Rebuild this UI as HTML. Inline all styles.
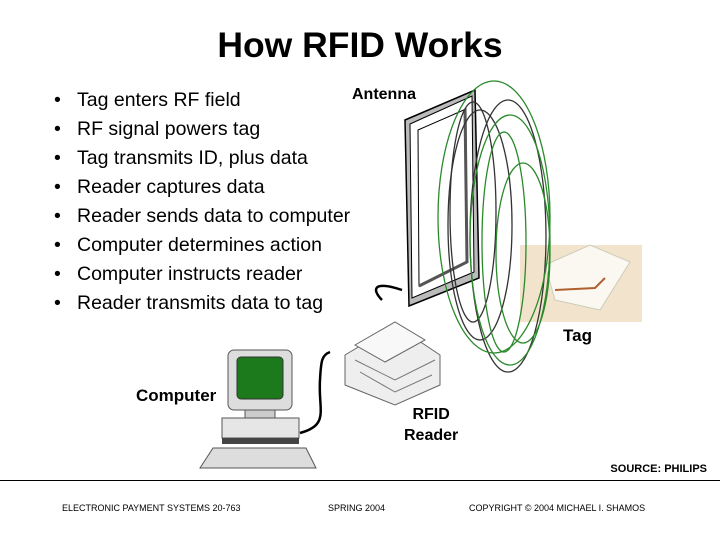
<!DOCTYPE html>
<html><head><style>
body{margin:0;width:720px;height:540px;background:#fff;position:relative;overflow:hidden;font-family:"Liberation Sans",sans-serif}
.t{position:absolute;white-space:nowrap}
</style></head><body>
<div class="t" style="left:0;width:720px;text-align:center;top:25px;font-size:35.5px;font-weight:bold">How RFID Works</div>
<div class="t" style="left:54px;top:86px;font-size:19.5px;line-height:29px">•<br>•<br>•<br>•<br>•<br>•<br>•<br>•</div>
<div class="t" style="left:77px;top:86px;font-size:19.5px;line-height:29px">Tag enters RF field<br>RF signal powers tag<br>Tag transmits ID, plus data<br>Reader captures data<br>Reader sends data to computer<br>Computer determines action<br>Computer instructs reader<br>Reader transmits data to tag</div>
<svg width="720" height="540" style="position:absolute;left:0;top:0">
<path d="M382,300 C372,290 372,280 402,290" fill="none" stroke="#000" stroke-width="2.5"/>
<polygon points="405,120 475,90 479,278 409,306" fill="#bbb" stroke="#000" stroke-width="1.5"/>
<polygon points="410,124 472,96 474,272 412,298" fill="#fff" stroke="#000" stroke-width="1"/>
<polygon points="418,130 466,109 467,262 419,286" fill="#fff" stroke="#000" stroke-width="1"/>
<polyline points="465,109 467,262 419,286" fill="none" stroke="#555" stroke-width="3"/>
<rect x="520" y="245" width="122" height="77" fill="#f2e4cc"/>
<polygon points="545,265 590,245 630,262 600,310 555,300" fill="#fbf8f2" stroke="#ccb" stroke-width="1"/>
<path d="M555,290 L595,288 L605,278" fill="none" stroke="#b06030" stroke-width="2"/>
<g fill="none" stroke-width="1.3">
<ellipse cx="473" cy="212" rx="23" ry="110" stroke="#333"/>
<ellipse cx="480" cy="225" rx="32" ry="115" stroke="#333"/>
<ellipse cx="508" cy="236" rx="38" ry="136" stroke="#333"/>
<ellipse cx="494" cy="217" rx="56" ry="136" stroke="#2a8a2a"/>
<ellipse cx="504" cy="242" rx="22" ry="110" stroke="#2a8a2a"/>
<ellipse cx="523" cy="253" rx="27" ry="90" stroke="#2a8a2a"/>
<ellipse cx="510" cy="240" rx="40" ry="125" stroke="#2a8a2a"/>
</g>
<polygon points="345,355 395,325 440,355 440,385 395,405 345,385" fill="#eee" stroke="#666"/>
<polygon points="355,345 395,322 425,340 385,362" fill="#f8f8f8" stroke="#666"/>
<path d="M355,360 L395,380 L435,360 M360,372 L395,392 L432,375" stroke="#777" fill="none"/>
<path d="M300,433 C330,425 318,410 320,380 C321,360 322,355 330,352" fill="none" stroke="#000" stroke-width="2.5"/>
<rect x="228" y="350" width="64" height="60" rx="6" fill="#ddd" stroke="#555"/>
<rect x="237" y="357" width="46" height="42" rx="4" fill="#1c7a1c" stroke="#333"/>
<rect x="245" y="410" width="30" height="8" fill="#ccc" stroke="#555"/>
<rect x="222" y="418" width="77" height="20" fill="#e6e6e6" stroke="#555"/>
<rect x="222" y="438" width="77" height="6" fill="#444"/>
<polygon points="213,448 306,448 316,468 200,468" fill="#ddd" stroke="#555"/>
</svg>
<div class="t" style="left:352px;top:86px;font-size:16px;font-weight:bold">Antenna</div>
<div class="t" style="left:563px;top:326px;font-size:17px;font-weight:bold">Tag</div>
<div class="t" style="left:136px;top:386px;font-size:17px;font-weight:bold">Computer</div>
<div class="t" style="left:404px;top:404px;font-size:16px;font-weight:bold;text-align:center;line-height:21px">RFID<br>Reader</div>
<div class="t" style="right:13px;top:463px;font-size:11px;font-weight:bold">SOURCE: PHILIPS</div>
<div style="position:absolute;left:0;width:720px;top:480px;border-top:1px solid #000"></div>
<div class="t" style="left:62px;top:503px;font-size:9px">ELECTRONIC PAYMENT SYSTEMS 20-763</div>
<div class="t" style="left:328px;top:503px;font-size:9px">SPRING 2004</div>
<div class="t" style="left:469px;top:503px;font-size:9px">COPYRIGHT © 2004 MICHAEL I. SHAMOS</div>
</body></html>
